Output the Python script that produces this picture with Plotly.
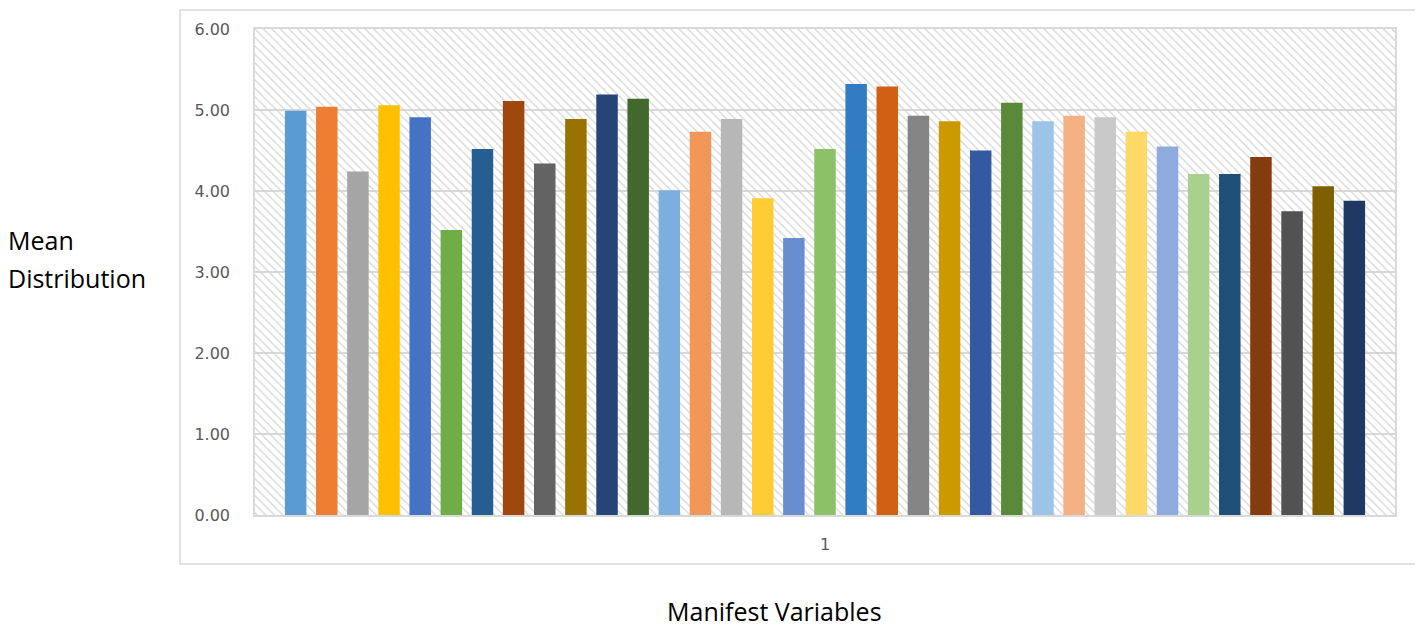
import plotly.graph_objects as go

# ---- data ----
category = ["1"]
series_names = [f"MV{i}" for i in range(1, 36)]
means = [4.99, 5.04, 4.24, 5.06, 4.91, 3.52, 4.52, 5.11, 4.34, 4.89,
         5.19, 5.14, 4.01, 4.73, 4.89, 3.91, 3.42, 4.52, 5.32, 5.29,
         4.93, 4.86, 4.50, 5.09, 4.86, 4.93, 4.91, 4.73, 4.55, 4.21,
         4.21, 4.42, 3.75, 4.06, 3.88]
colors = ["#5B9BD5", "#ED7D31", "#A5A5A5", "#FFC000", "#4472C4", "#70AD47",
          "#255E91", "#9E480E", "#636363", "#997300", "#264478", "#43682B",
          "#7CAFDD", "#F1975A", "#B7B7B7", "#FFCD33", "#698ED0", "#8CC168",
          "#327DC2", "#D26012", "#848484", "#CC9A00", "#335AA1", "#5A8A39",
          "#9DC3E6", "#F4B183", "#C9C9C9", "#FFD966", "#8FAADC", "#A9D18E",
          "#1F4E79", "#843C0C", "#525252", "#7F6000", "#203864"]
y_ticks = [0, 1, 2, 3, 4, 5, 6]
y_max = 6

fig = go.Figure()

# hatched plot-area background (on the hidden base x axis)
fig.add_trace(go.Bar(
    x=[0.5], y=[y_max], width=[1], xaxis="x", yaxis="y",
    marker=dict(color="rgba(0,0,0,0)", line=dict(width=0),
                pattern=dict(shape="\\", fgcolor="#d4d4d4", bgcolor="rgba(0,0,0,0)",
                             size=6, solidity=0.2, fillmode="replace")),
    hoverinfo="skip", showlegend=False))

for name, v, c in zip(series_names, means, colors):
    fig.add_trace(go.Bar(
        x=category, y=[v], name=name, xaxis="x2", yaxis="y",
        marker=dict(color=c, line=dict(width=0)), showlegend=False))

tick_font = dict(family="DejaVu Sans", size=16, color="#595959")

fig.update_layout(
    width=1415, height=621,
    margin=dict(l=247, r=28, t=21, b=114),
    paper_bgcolor="white", plot_bgcolor="white",
    barmode="group", bargap=0.044, bargroupgap=0.31,
    xaxis=dict(range=[0, 1], visible=False, fixedrange=True),
    xaxis2=dict(overlaying="x", side="bottom", type="category",
                showgrid=False, showline=True, linecolor="#d9d9d9", linewidth=1.5,
                mirror=True, ticks="outside", ticklen=14, tickcolor="rgba(0,0,0,0)",
                tickfont=tick_font),
    yaxis=dict(range=[0, y_max], tickvals=y_ticks, tickformat=".2f",
               showgrid=True, gridcolor="#d9d9d9", gridwidth=1.5,
               showline=True, linecolor="#d9d9d9", linewidth=1.5, mirror=True,
               zeroline=False, ticks="outside", ticklen=20,
               tickcolor="rgba(0,0,0,0)", tickfont=tick_font),
    shapes=[dict(type="rect", xref="paper", yref="paper",
                 x0=-0.0658, x1=1.03, y0=-0.101, y1=1.039,
                 line=dict(color="#d9d9d9", width=1.5), layer="below")],
    annotations=[
        dict(text="Mean", xref="paper", yref="paper", x=-0.2185, y=0.565,
             xanchor="left", yanchor="middle", showarrow=False,
             font=dict(family="Open Sans", size=25, color="black")),
        dict(text="Distribution", xref="paper", yref="paper", x=-0.2185, y=0.487,
             xanchor="left", yanchor="middle", showarrow=False,
             font=dict(family="Open Sans", size=25, color="black")),
        dict(text="Manifest Variables", xref="paper", yref="paper", x=0.456, y=-0.198,
             xanchor="center", yanchor="middle", showarrow=False,
             font=dict(family="Open Sans", size=25, color="black")),
    ],
)

fig.write_html("out.html")
